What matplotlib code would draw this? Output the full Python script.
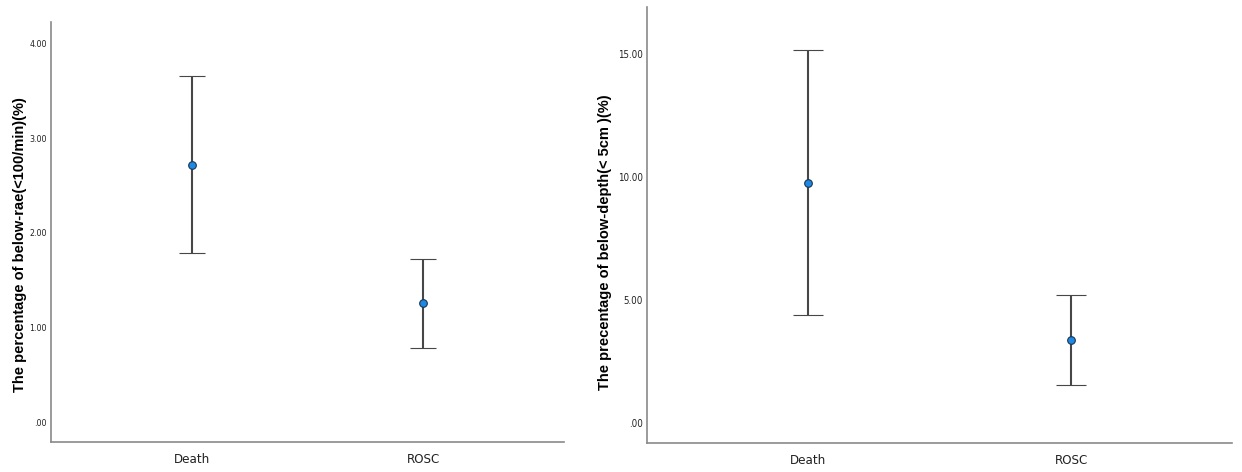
import matplotlib.pyplot as plt
import numpy as np

groups = ["Death", "ROSC"]

# below-rate (<100/min) percentage: mean and CI bounds
rate_mean = [2.72, 1.26]
rate_low = [1.79, 0.78]
rate_high = [3.66, 1.72]

# below-depth (<5cm) percentage: mean and CI bounds
depth_mean = [9.76, 3.37]
depth_low = [4.39, 1.54]
depth_high = [15.16, 5.20]

rate_ticks = [0, 1, 2, 3, 4]
rate_ticklabels = [".00", "1.00", "2.00", "3.00", "4.00"]
depth_ticks = [0, 5, 10, 15]
depth_ticklabels = [".00", "5.00", "10.00", "15.00"]


def error_panel(ax, mean, low, high, ylim, ticks, ticklabels, ylabel, tick_fs, cap, lab_xy):
    x = np.arange(len(groups))
    mean = np.array(mean)
    yerr = [mean - np.array(low), np.array(high) - mean]
    ax.errorbar(x, mean, yerr=yerr, fmt='o', color='#1e88e5', markeredgecolor='#1a3550',
                markeredgewidth=0.8, markersize=5.5, ecolor='#474747', elinewidth=1.5,
                capsize=cap, capthick=2.0)
    ax.set_xlim(-0.61, 1.61)
    ax.set_ylim(*ylim)
    ax.set_xticks(x)
    ax.set_xticklabels(groups, fontsize=9.5, family="DejaVu Sans", stretch="condensed", color='#222222')
    ax.set_yticks(ticks)
    ax.set_yticklabels(ticklabels, fontsize=tick_fs, family="DejaVu Sans", stretch="condensed",
                       color='#222222')
    ax.tick_params(axis='x', length=0, pad=8)
    ax.tick_params(axis='y', length=0, pad=3)
    ax.set_ylabel(ylabel, fontsize=10.5, fontweight='bold', family=["Liberation Sans", "DejaVu Sans"])
    ax.yaxis.set_label_coords(*lab_xy)
    for s in ['top', 'right']:
        ax.spines[s].set_visible(False)
    for s in ['left', 'bottom']:
        ax.spines[s].set_color('#8a8a8a')
        ax.spines[s].set_linewidth(1.2)


fig = plt.figure(figsize=(12.42, 4.72), dpi=100)
ax1 = fig.add_axes([0.0411, 0.0636, 0.4130, 0.8898])
ax2 = fig.add_axes([0.5209, 0.0614, 0.4711, 0.9236])

error_panel(ax1, rate_mean, rate_low, rate_high, (-0.21, 4.23), rate_ticks, rate_ticklabels,
            "The percentage of below-rae(<100/min)(%)", 6.3, 9.4, (-0.046, 0.471))
error_panel(ax2, depth_mean, depth_low, depth_high, (-0.81, 16.9), depth_ticks, depth_ticklabels,
            "The precentage of below-depth(< 5cm )(%)", 7, 10.8, (-0.059, 0.461))

plt.savefig("out.png", dpi=100)
